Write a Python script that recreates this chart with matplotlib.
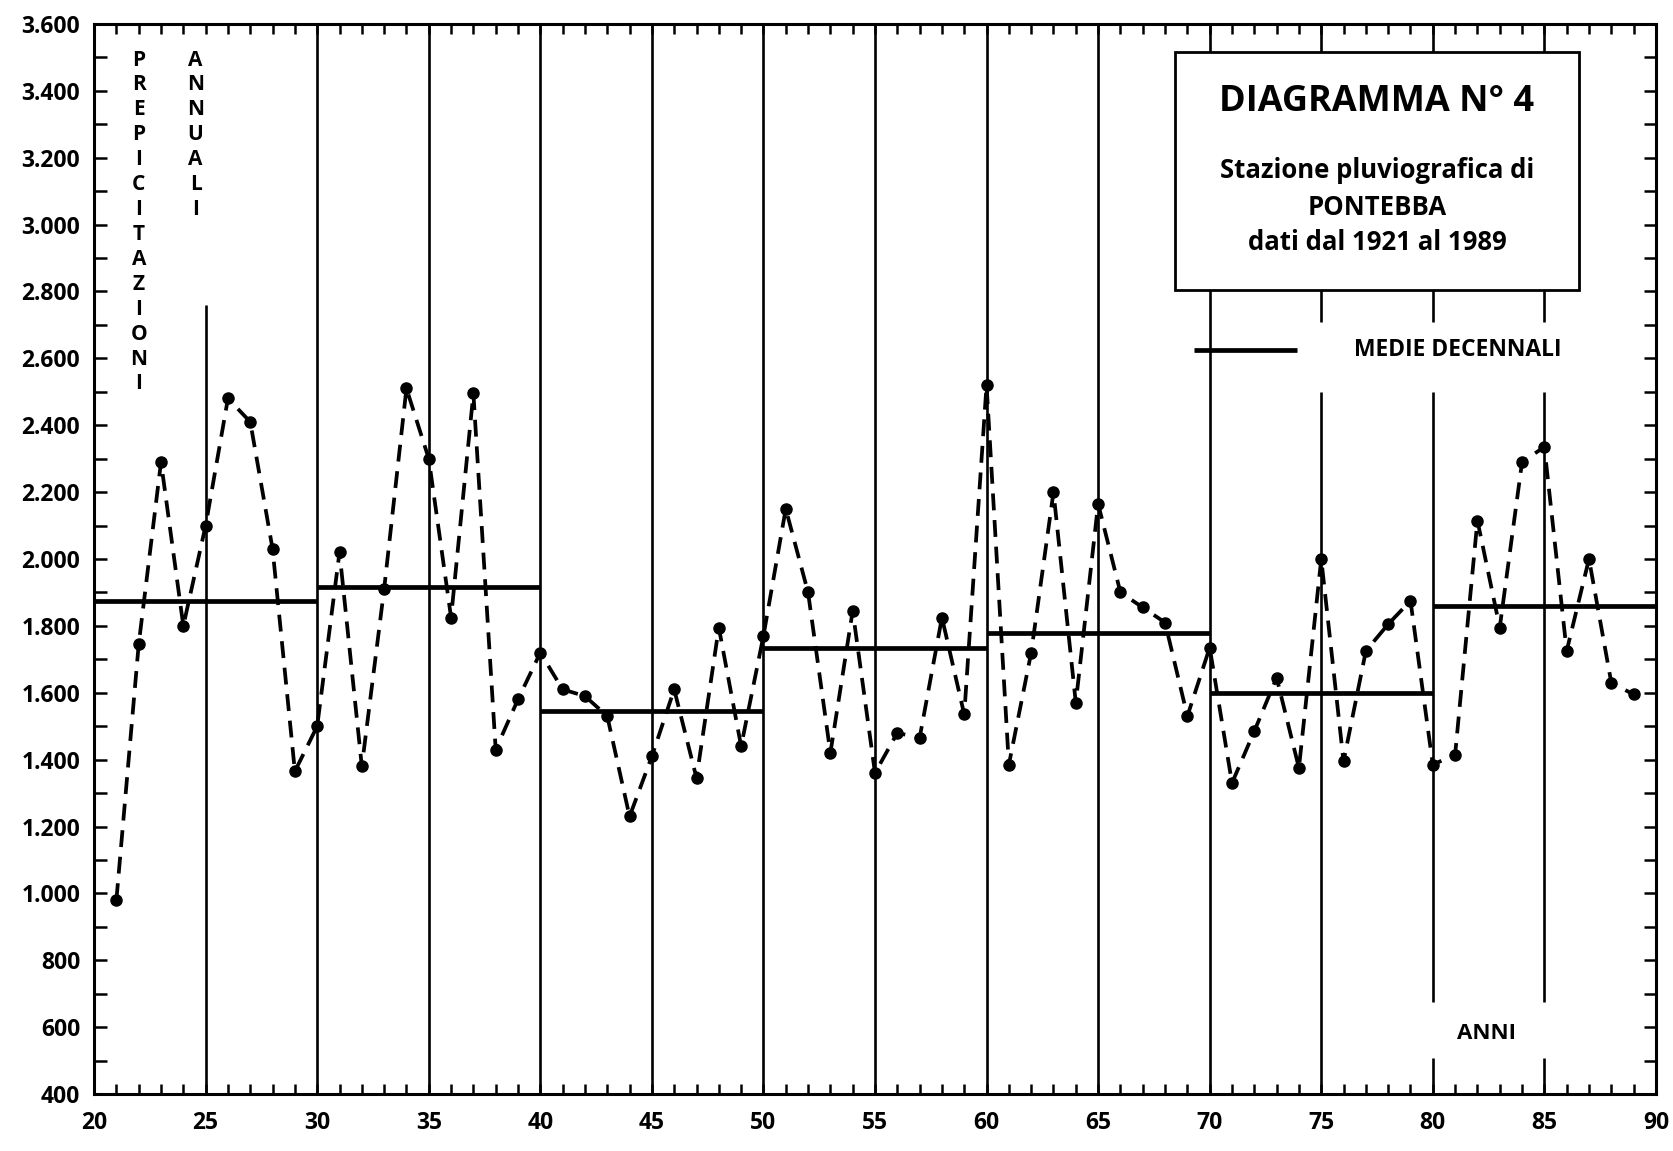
import numpy as np
import matplotlib
matplotlib.use("Agg")
import matplotlib.pyplot as plt
from matplotlib.patches import Rectangle
from matplotlib.ticker import FuncFormatter, MultipleLocator

plt.rcParams['font.family'] = ['Open Sans', 'DejaVu Sans']
plt.rcParams['font.weight'] = 'bold'

# ---------- data ----------
years = np.arange(21, 90)          # 1921 .. 1989
rain = [980, 1745, 2290, 1800, 2100, 2480, 2410, 2030, 1365,
        1500, 2020, 1380, 1910, 2510, 2300, 1825, 2495, 1430, 1580,
        1720, 1610, 1590, 1530, 1230, 1410, 1610, 1345, 1795, 1440,
        1770, 2150, 1900, 1420, 1845, 1360, 1480, 1465, 1825, 1535,
        2520, 1385, 1720, 2200, 1570, 2165, 1900, 1855, 1810, 1530,
        1735, 1330, 1485, 1645, 1375, 2000, 1395, 1725, 1805, 1875,
        1385, 1415, 2115, 1795, 2290, 2335, 1725, 2000, 1630, 1595]

dec_start = [20, 30, 40, 50, 60, 70, 80]
dec_mean = [1875, 1915, 1545, 1735, 1780, 1600, 1860]

x_ticks = list(range(20, 91, 5))
y_ticks = list(range(400, 3601, 200))

fig = plt.figure(figsize=(16.74, 11.51), dpi=100)
ax = fig.add_axes([0.0562, 0.0495, 0.9330, 0.9297])
ax.set_xlim(20, 90)
ax.set_ylim(400, 3600)

# ---------- vertical guide lines every 5 years ----------
vl = dict(color='k', lw=1.9, zorder=1)
ax.vlines(25, 400, 2760, **vl)
ax.vlines([30, 35, 40, 45, 50, 55, 60, 65, 70], 400, 3600, **vl)
ax.vlines([75, 75], [400, 2710], [2500, 3600], **vl)
for xv in (80, 85):
    ax.vlines([xv] * 3, [400, 675, 2710], [508, 2500, 3600], **vl)

# ---------- decade means ----------
for s, m in zip(dec_start, dec_mean):
    ax.hlines(m, s, s + 10, color='k', lw=3.4, zorder=3)

# ---------- annual precipitation ----------
ax.plot(years, rain, color='k', lw=2.7, ls=(0, (4.5, 2.6)),
        marker='o', ms=8, mfc='k', mec='k', zorder=4)

# ---------- title box ----------
ax.add_patch(Rectangle((68.45, 2804), 18.1, 712, facecolor='white',
                       edgecolor='k', lw=2.0, zorder=5))
ax.text(77.5, 3366, 'DIAGRAMMA N° 4', ha='center', va='center',
        fontsize=26, fontweight='bold', zorder=6)
ax.text(77.5, 3163, 'Stazione pluviografica di', ha='center', va='center',
        fontsize=18.5, fontweight='bold', zorder=6)
ax.text(77.5, 3052, 'PONTEBBA', ha='center', va='center',
        fontsize=18.5, fontweight='bold', zorder=6)
ax.text(77.5, 2945, 'dati dal 1921 al 1989', ha='center', va='center',
        fontsize=18.5, fontweight='bold', zorder=6)

# legend
ax.hlines(2625, 69.3, 73.9, color='k', lw=3.4, zorder=3)
ax.text(81.1, 2625, 'MEDIE DECENNALI', ha='center', va='center',
        fontsize=16.5, fontweight='bold')

ax.text(82.4, 582, 'ANNI', ha='center', va='center', fontsize=16, fontweight='bold')

# vertical axis caption
for i, ch in enumerate('PREPICITAZIONI'):
    ax.text(22.0, 3492 - i * 74.5, ch, ha='center', va='center', fontsize=15, fontweight='bold')
for i, ch in enumerate('ANNUALI'):
    ax.text(24.55, 3492 - i * 74.5, ch, ha='center', va='center', fontsize=15, fontweight='bold')

# ---------- axes ----------
ax.set_xticks(x_ticks)
ax.set_yticks(y_ticks)
ax.xaxis.set_minor_locator(MultipleLocator(1))
ax.yaxis.set_minor_locator(MultipleLocator(100))
ax.yaxis.set_major_formatter(FuncFormatter(lambda v, p: f"{int(v):,}".replace(",", ".")))
ax.tick_params(which='both', direction='in', top=True, right=True, width=1.8)
ax.tick_params(axis='x', which='both', length=7)
ax.tick_params(axis='y', which='both', length=9)
ax.tick_params(axis='x', labelsize=16.5, pad=12)
ax.tick_params(axis='y', labelsize=16.5, pad=10)
for sp in ax.spines.values():
    sp.set_linewidth(2.2)

fig.savefig('out.png', dpi=100)
